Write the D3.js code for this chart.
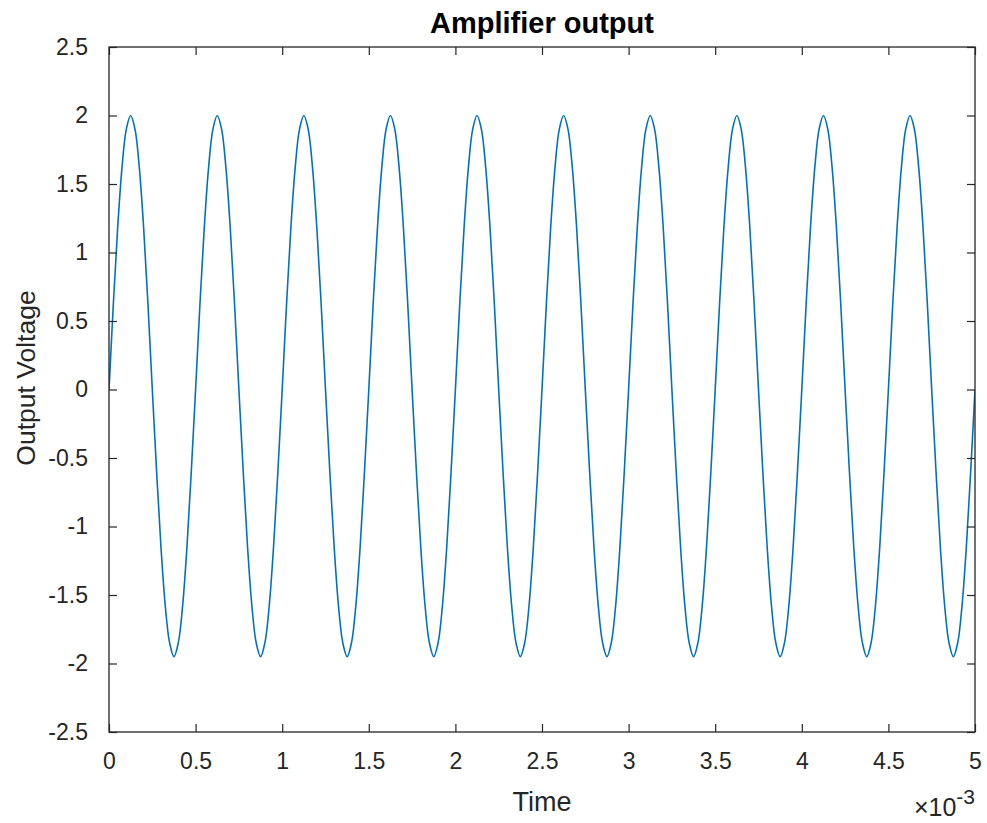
<!DOCTYPE html>
<html>
<head>
<meta charset="utf-8">
<script src="https://cdn.jsdelivr.net/npm/d3@7"></script>
<style>
  html, body { margin: 0; padding: 0; background: #ffffff; }
  svg { display: block; }
  text { font-family: "Liberation Sans", Arial, Helvetica, sans-serif; fill: #262626; }
</style>
</head>
<body>
<svg id="chart" width="987" height="823"></svg>
<script>
// ---- Data (time in milliseconds, displayed with ×10^-3 exponent) ----
const timeMs = [
  0.000, 0.025, 0.050, 0.075, 0.100, 0.125, 0.150, 0.175, 0.200, 0.225, 0.250, 0.275, 0.300, 0.325, 0.350, 0.375, 0.400, 0.425, 0.450, 0.475,
  0.500, 0.525, 0.550, 0.575, 0.600, 0.625, 0.650, 0.675, 0.700, 0.725, 0.750, 0.775, 0.800, 0.825, 0.850, 0.875, 0.900, 0.925, 0.950, 0.975,
  1.000, 1.025, 1.050, 1.075, 1.100, 1.125, 1.150, 1.175, 1.200, 1.225, 1.250, 1.275, 1.300, 1.325, 1.350, 1.375, 1.400, 1.425, 1.450, 1.475,
  1.500, 1.525, 1.550, 1.575, 1.600, 1.625, 1.650, 1.675, 1.700, 1.725, 1.750, 1.775, 1.800, 1.825, 1.850, 1.875, 1.900, 1.925, 1.950, 1.975,
  2.000, 2.025, 2.050, 2.075, 2.100, 2.125, 2.150, 2.175, 2.200, 2.225, 2.250, 2.275, 2.300, 2.325, 2.350, 2.375, 2.400, 2.425, 2.450, 2.475,
  2.500, 2.525, 2.550, 2.575, 2.600, 2.625, 2.650, 2.675, 2.700, 2.725, 2.750, 2.775, 2.800, 2.825, 2.850, 2.875, 2.900, 2.925, 2.950, 2.975,
  3.000, 3.025, 3.050, 3.075, 3.100, 3.125, 3.150, 3.175, 3.200, 3.225, 3.250, 3.275, 3.300, 3.325, 3.350, 3.375, 3.400, 3.425, 3.450, 3.475,
  3.500, 3.525, 3.550, 3.575, 3.600, 3.625, 3.650, 3.675, 3.700, 3.725, 3.750, 3.775, 3.800, 3.825, 3.850, 3.875, 3.900, 3.925, 3.950, 3.975,
  4.000, 4.025, 4.050, 4.075, 4.100, 4.125, 4.150, 4.175, 4.200, 4.225, 4.250, 4.275, 4.300, 4.325, 4.350, 4.375, 4.400, 4.425, 4.450, 4.475,
  4.500, 4.525, 4.550, 4.575, 4.600, 4.625, 4.650, 4.675, 4.700, 4.725, 4.750, 4.775, 4.800, 4.825, 4.850, 4.875, 4.900, 4.925, 4.950, 4.975,
  5.000
];
const outputVoltage = [
  0.00, 0.62, 1.18, 1.62, 1.90, 2.00, 1.90, 1.62, 1.18, 0.62, 0.00, -0.60, -1.15, -1.58, -1.85, -1.95, -1.85, -1.58, -1.15, -0.60,
  0.00, 0.62, 1.18, 1.62, 1.90, 2.00, 1.90, 1.62, 1.18, 0.62, 0.00, -0.60, -1.15, -1.58, -1.85, -1.95, -1.85, -1.58, -1.15, -0.60,
  0.00, 0.62, 1.18, 1.62, 1.90, 2.00, 1.90, 1.62, 1.18, 0.62, 0.00, -0.60, -1.15, -1.58, -1.85, -1.95, -1.85, -1.58, -1.15, -0.60,
  0.00, 0.62, 1.18, 1.62, 1.90, 2.00, 1.90, 1.62, 1.18, 0.62, 0.00, -0.60, -1.15, -1.58, -1.85, -1.95, -1.85, -1.58, -1.15, -0.60,
  0.00, 0.62, 1.18, 1.62, 1.90, 2.00, 1.90, 1.62, 1.18, 0.62, 0.00, -0.60, -1.15, -1.58, -1.85, -1.95, -1.85, -1.58, -1.15, -0.60,
  0.00, 0.62, 1.18, 1.62, 1.90, 2.00, 1.90, 1.62, 1.18, 0.62, 0.00, -0.60, -1.15, -1.58, -1.85, -1.95, -1.85, -1.58, -1.15, -0.60,
  0.00, 0.62, 1.18, 1.62, 1.90, 2.00, 1.90, 1.62, 1.18, 0.62, 0.00, -0.60, -1.15, -1.58, -1.85, -1.95, -1.85, -1.58, -1.15, -0.60,
  0.00, 0.62, 1.18, 1.62, 1.90, 2.00, 1.90, 1.62, 1.18, 0.62, 0.00, -0.60, -1.15, -1.58, -1.85, -1.95, -1.85, -1.58, -1.15, -0.60,
  0.00, 0.62, 1.18, 1.62, 1.90, 2.00, 1.90, 1.62, 1.18, 0.62, 0.00, -0.60, -1.15, -1.58, -1.85, -1.95, -1.85, -1.58, -1.15, -0.60,
  0.00, 0.62, 1.18, 1.62, 1.90, 2.00, 1.90, 1.62, 1.18, 0.62, 0.00, -0.60, -1.15, -1.58, -1.85, -1.95, -1.85, -1.58, -1.15, -0.60,
  0.00
];
const xTicks = [0, 0.5, 1, 1.5, 2, 2.5, 3, 3.5, 4, 4.5, 5];
const xTickLabels = ["0", "0.5", "1", "1.5", "2", "2.5", "3", "3.5", "4", "4.5", "5"];
const yTicks = [-2.5, -2, -1.5, -1, -0.5, 0, 0.5, 1, 1.5, 2, 2.5];
const yTickLabels = ["-2.5", "-2", "-1.5", "-1", "-0.5", "0", "0.5", "1", "1.5", "2", "2.5"];
const titleText = "Amplifier output";
const xLabelText = "Time";
const yLabelText = "Output Voltage";

// ---- Layout ----
const plot = { left: 109, right: 975, top: 47, bottom: 732 };
const axisColor = "#262626";
const lineColor = "#0072BD";
const tickLen = 8;
const tickFont = 23;

const svg = d3.select("#chart");
const x = d3.scaleLinear().domain([0, 5]).range([plot.left, plot.right]);
const y = d3.scaleLinear().domain([-2.5, 2.5]).range([plot.bottom, plot.top]);

const data = timeMs.map((t, i) => ({ t, v: outputVoltage[i] }));

// Clip
svg.append("defs").append("clipPath").attr("id", "clip")
  .append("rect")
  .attr("x", plot.left).attr("y", plot.top)
  .attr("width", plot.right - plot.left).attr("height", plot.bottom - plot.top);

// Line
const line = d3.line().x(d => x(d.t)).y(d => y(d.v)).curve(d3.curveCatmullRom.alpha(0.5));
svg.append("path")
  .datum(data)
  .attr("clip-path", "url(#clip)")
  .attr("fill", "none")
  .attr("stroke", lineColor)
  .attr("stroke-width", 1.6)
  .attr("stroke-linejoin", "round")
  .attr("d", line);

// Axes (box with inward ticks on all four sides)
const fmtX = (d, i) => xTickLabels[i];
const fmtY = (d, i) => yTickLabels[i];

function styleAxis(g) {
  g.select(".domain").remove();
  g.selectAll(".tick line").attr("stroke", axisColor).attr("stroke-width", 1.2);
  g.selectAll(".tick text").attr("fill", axisColor).style("font-size", tickFont + "px")
    .style("font-family", '"Liberation Sans", Arial, sans-serif');
}

const gxb = svg.append("g").attr("transform", `translate(0,${plot.bottom})`)
  .call(d3.axisBottom(x).tickValues(xTicks).tickFormat(fmtX).tickSizeInner(-tickLen).tickSizeOuter(0).tickPadding(tickLen + 13));
styleAxis(gxb);

const gxt = svg.append("g").attr("transform", `translate(0,${plot.top})`)
  .call(d3.axisTop(x).tickValues(xTicks).tickFormat("").tickSizeInner(-tickLen).tickSizeOuter(0));
styleAxis(gxt);

const gyl = svg.append("g").attr("transform", `translate(${plot.left},0)`)
  .call(d3.axisLeft(y).tickValues(yTicks).tickFormat(fmtY).tickSizeInner(-tickLen).tickSizeOuter(0).tickPadding(tickLen + 13));
styleAxis(gyl);

const gyr = svg.append("g").attr("transform", `translate(${plot.right},0)`)
  .call(d3.axisRight(y).tickValues(yTicks).tickFormat("").tickSizeInner(-tickLen).tickSizeOuter(0));
styleAxis(gyr);

// Box
svg.append("rect")
  .attr("x", plot.left).attr("y", plot.top)
  .attr("width", plot.right - plot.left).attr("height", plot.bottom - plot.top)
  .attr("fill", "none").attr("stroke", axisColor).attr("stroke-width", 1.3);

// Title
svg.append("text")
  .attr("x", (plot.left + plot.right) / 2).attr("y", 33)
  .attr("text-anchor", "middle")
  .style("font-size", "29px").style("font-weight", "bold")
  .style("fill", "#000")
  .text(titleText);

// X label
svg.append("text")
  .attr("x", (plot.left + plot.right) / 2).attr("y", 811)
  .attr("text-anchor", "middle")
  .style("font-size", "27px")
  .text(xLabelText);

// Y label
svg.append("text")
  .attr("transform", `translate(35,378) rotate(-90)`)
  .attr("text-anchor", "middle")
  .style("font-size", "26.5px")
  .text(yLabelText);

// Exponent multiplier
const ex = svg.append("text")
  .attr("x", plot.right).attr("y", 816)
  .attr("text-anchor", "end")
  .style("font-size", "25px");
ex.append("tspan").text("×10");
ex.append("tspan").attr("dy", -12).style("font-size", "21px").text("-3");
</script>
</body>
</html>
